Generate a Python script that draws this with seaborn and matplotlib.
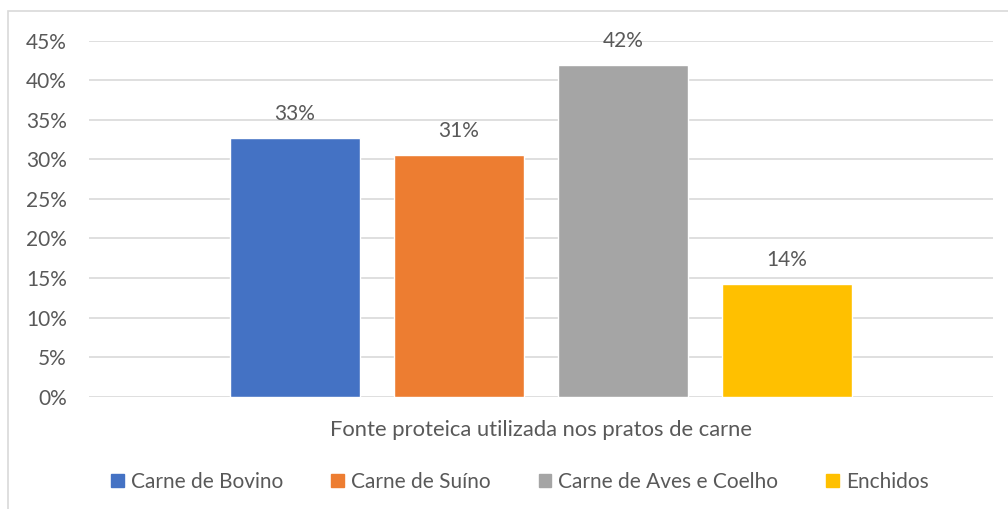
import pandas as pd
import seaborn as sns
import matplotlib.pyplot as plt
from matplotlib.patches import Rectangle

categoria = ["Fonte proteica utilizada nos pratos de carne"]
series = ["Carne de Bovino", "Carne de Suíno", "Carne de Aves e Coelho", "Enchidos"]
valores = [0.327, 0.306, 0.419, 0.143]
rotulos = ["33%", "31%", "42%", "14%"]
cores = ["#4472C4", "#ED7D31", "#A5A5A5", "#FFC000"]

df = pd.DataFrame({"cat": categoria * len(series), "fonte": series, "valor": valores})

sns.set_style("white")
plt.rcParams["font.family"] = ["Lato", "DejaVu Sans"]
cinza = "#595959"
fs = 15

fig = plt.figure(figsize=(10.08, 5.09), dpi=100)
ax = fig.add_axes([89/1008, 1 - 396.7/509, 904/1008, 356/509])

sns.barplot(data=df, x="cat", y="valor", hue="fonte", palette=cores,
            width=0.726, gap=0.207, saturation=1, ax=ax, legend=False)

for cont, lab in zip(ax.containers, rotulos):
    ax.bar_label(cont, labels=[lab], padding=10, fontsize=fs, color=cinza)

ax.set_xlim(-0.5, 0.5)
ax.set_ylim(0, 0.45)
ax.set_yticks([i * 0.05 for i in range(10)])
ax.set_yticklabels([f"{i*5}%" for i in range(10)])
ax.yaxis.grid(True, color="#d9d9d9", linewidth=1.2)
ax.set_axisbelow(True)
for s in ax.spines.values():
    s.set_visible(False)
ax.tick_params(axis="y", length=0, labelsize=fs, labelcolor=cinza, pad=16)
ax.tick_params(axis="x", length=0, labelsize=15.8, labelcolor=cinza, pad=17)
ax.set_xlabel("")
ax.set_ylabel("")

# legenda
handles = [Rectangle((0, 0), 1, 1, color=c) for c in cores]
fig.legend(handles, series, loc="center", bbox_to_anchor=(520/1008, 1 - 482/509),
           ncol=4, frameon=False, fontsize=fs, labelcolor=cinza,
           handlelength=0.6, handleheight=0.6, handletextpad=0.35, columnspacing=2.3)

# borda do gráfico
fig.patches.append(Rectangle((8/1008, -0.1), 1.1, 1 - 11/509 + 0.1, transform=fig.transFigure,
                             fill=False, edgecolor="#d9d9d9", linewidth=1.2))

fig.savefig("out.png", dpi=100)
